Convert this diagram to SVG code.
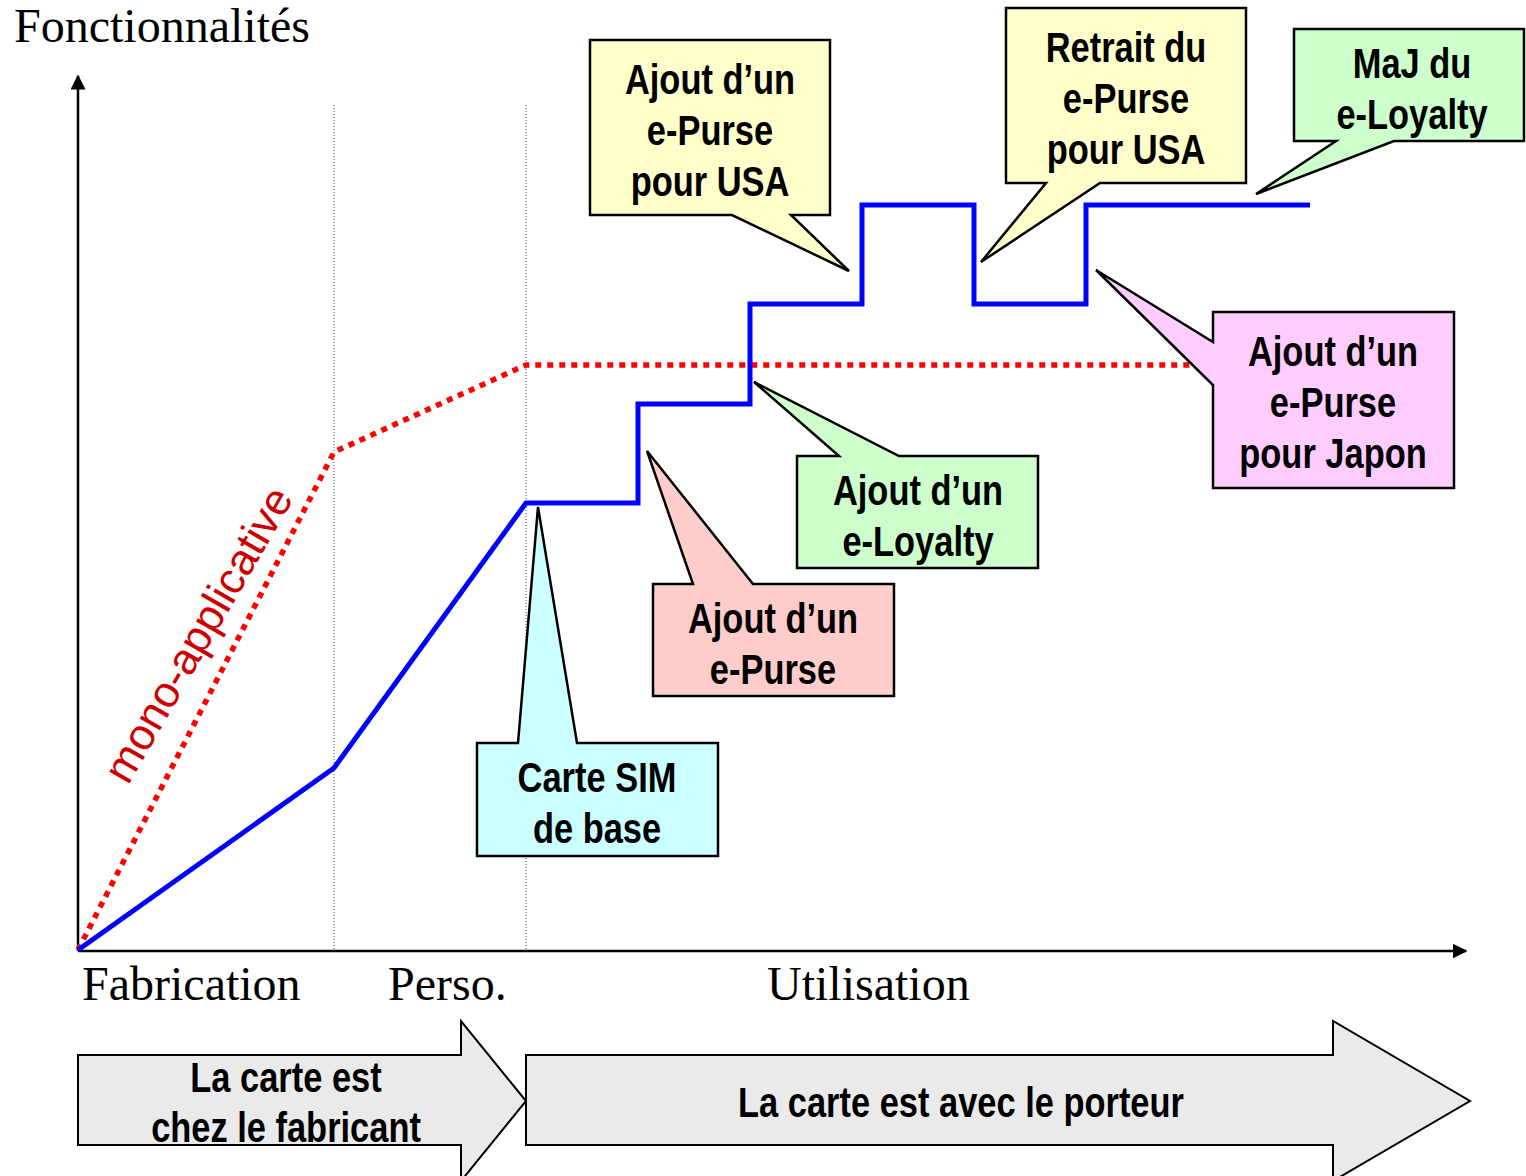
<svg xmlns="http://www.w3.org/2000/svg" width="1526" height="1176" viewBox="0 0 1526 1176">
  <style>
    .axis { stroke: #000; stroke-width: 2.5; fill: none; }
    .guide { stroke: #444; stroke-width: 1; stroke-dasharray: 1 2; fill: none; }
    .serif { font-family: "Liberation Serif", "Times New Roman", serif; font-size: 48px; fill: #000; }
    .bubble { stroke: #000; stroke-width: 2.5; stroke-linejoin: miter; }
    /* narrow bold lettering: Arial-width bold squeezed to Arial Narrow proportions */
    .label { font-family: "Liberation Sans", Arial, sans-serif; font-weight: bold; font-size: 42px; fill: #000; text-anchor: middle; }
    .phase { fill: #eaeaea; stroke: #000; stroke-width: 2; }
  </style>
  <defs>
    <marker id="arrow" viewBox="0 0 10 10" refX="9" refY="5" markerWidth="6" markerHeight="6" markerUnits="strokeWidth" orient="auto">
      <path d="M0,0 L10,5 L0,10 Z" fill="#000"/>
    </marker>
  </defs>
  <rect width="1526" height="1176" fill="#fff"/>

  <!-- axes and phase separators -->
  <g id="axes">
    <line class="guide" x1="334" y1="105" x2="334" y2="950"/>
    <line class="guide" x1="526" y1="105" x2="526" y2="950"/>
    <line class="axis" x1="78" y1="951" x2="78" y2="76" marker-end="url(#arrow)"/>
    <line class="axis" x1="78" y1="951" x2="1466" y2="951" marker-end="url(#arrow)"/>
    <text class="serif" x="14" y="42">Fonctionnalités</text>
    <text class="serif" x="82" y="1000">Fabrication</text>
    <text class="serif" x="388" y="1000">Perso.</text>
    <text class="serif" x="767" y="1000">Utilisation</text>
  </g>

  <!-- curves -->
  <g id="connectors">
    <polyline points="78,950 334,452 526,365 1205,365" fill="none" stroke="#ff0000" stroke-width="5.5" stroke-dasharray="6 6"/>
    <polyline points="78,950 334,768 526,503 638,503 638,404 750,404 750,304 862,304 862,205 974,205 974,304 1086,304 1086,205 1310,205" fill="none" stroke="#0000ff" stroke-width="5"/>
  </g>

  <g id="mono-applicative">
    <text x="128" y="786" transform="rotate(-60 128 786)" font-family="'Liberation Sans', Arial, sans-serif" font-size="44" fill="#cc0000">mono-applicative</text>
  </g>

  <!-- callouts -->
  <g id="carte-sim">
    <path class="bubble" fill="#ccffff" d="M477,743 H518 L538,507 L577,743 H718 V856 H477 Z"/>
    <text class="label" transform="matrix(0.82 0 0 1 597 0)" y="792">Carte SIM</text>
    <text class="label" transform="matrix(0.82 0 0 1 597 0)" y="843">de base</text>
  </g>

  <g id="ajout-epurse">
    <path class="bubble" fill="#ffcccc" d="M653,584 H693 L647,451 L753,584 H894 V696 H653 Z"/>
    <text class="label" transform="matrix(0.82 0 0 1 773 0)" y="633">Ajout d’un</text>
    <text class="label" transform="matrix(0.82 0 0 1 773 0)" y="684">e-Purse</text>
  </g>

  <g id="ajout-eloyalty">
    <path class="bubble" fill="#ccffcc" d="M797,456 H839 L754,382 L899,456 H1038 V568 H797 Z"/>
    <text class="label" transform="matrix(0.82 0 0 1 918 0)" y="505">Ajout d’un</text>
    <text class="label" transform="matrix(0.82 0 0 1 918 0)" y="556">e-Loyalty</text>
  </g>

  <g id="ajout-epurse-usa">
    <path class="bubble" fill="#ffffcc" d="M590,40 H830 V215 H791 L849,271 L732,215 H590 Z"/>
    <text class="label" transform="matrix(0.82 0 0 1 710 0)" y="94">Ajout d’un</text>
    <text class="label" transform="matrix(0.82 0 0 1 710 0)" y="145">e-Purse</text>
    <text class="label" transform="matrix(0.82 0 0 1 710 0)" y="196">pour USA</text>
  </g>

  <g id="retrait-epurse-usa">
    <path class="bubble" fill="#ffffcc" d="M1006,8 H1246 V183 H1100 L981,262 L1046,183 H1006 Z"/>
    <text class="label" transform="matrix(0.82 0 0 1 1126 0)" y="62">Retrait du</text>
    <text class="label" transform="matrix(0.82 0 0 1 1126 0)" y="113">e-Purse</text>
    <text class="label" transform="matrix(0.82 0 0 1 1126 0)" y="164">pour USA</text>
  </g>

  <g id="maj-eloyalty">
    <path class="bubble" fill="#ccffcc" d="M1294,29 H1524 V141 H1394 L1256,194 L1336,141 H1294 Z"/>
    <text class="label" transform="matrix(0.82 0 0 1 1412 0)" y="78">MaJ du</text>
    <text class="label" transform="matrix(0.82 0 0 1 1412 0)" y="129">e-Loyalty</text>
  </g>

  <g id="ajout-epurse-japon">
    <path class="bubble" fill="#ffccff" d="M1213,312 H1454 V488 H1213 V385 L1096,270 L1213,342 Z"/>
    <text class="label" transform="matrix(0.82 0 0 1 1333 0)" y="366">Ajout d’un</text>
    <text class="label" transform="matrix(0.82 0 0 1 1333 0)" y="417">e-Purse</text>
    <text class="label" transform="matrix(0.82 0 0 1 1333 0)" y="468">pour Japon</text>
  </g>

  <!-- lifecycle phases -->
  <g id="phase-fabricant">
    <path class="phase" d="M78,1055 H461 V1021 L526,1101 L461,1181 V1145 H78 Z"/>
    <text class="label" transform="matrix(0.82 0 0 1 286 0)" y="1092">La carte est</text>
    <text class="label" transform="matrix(0.82 0 0 1 286 0)" y="1142">chez le fabricant</text>
  </g>
  <g id="phase-porteur">
    <path class="phase" d="M526,1055 H1333 V1021 L1470,1101 L1333,1181 V1145 H526 Z"/>
    <text class="label" transform="matrix(0.82 0 0 1 961 0)" y="1117">La carte est avec le porteur</text>
  </g>
</svg>
